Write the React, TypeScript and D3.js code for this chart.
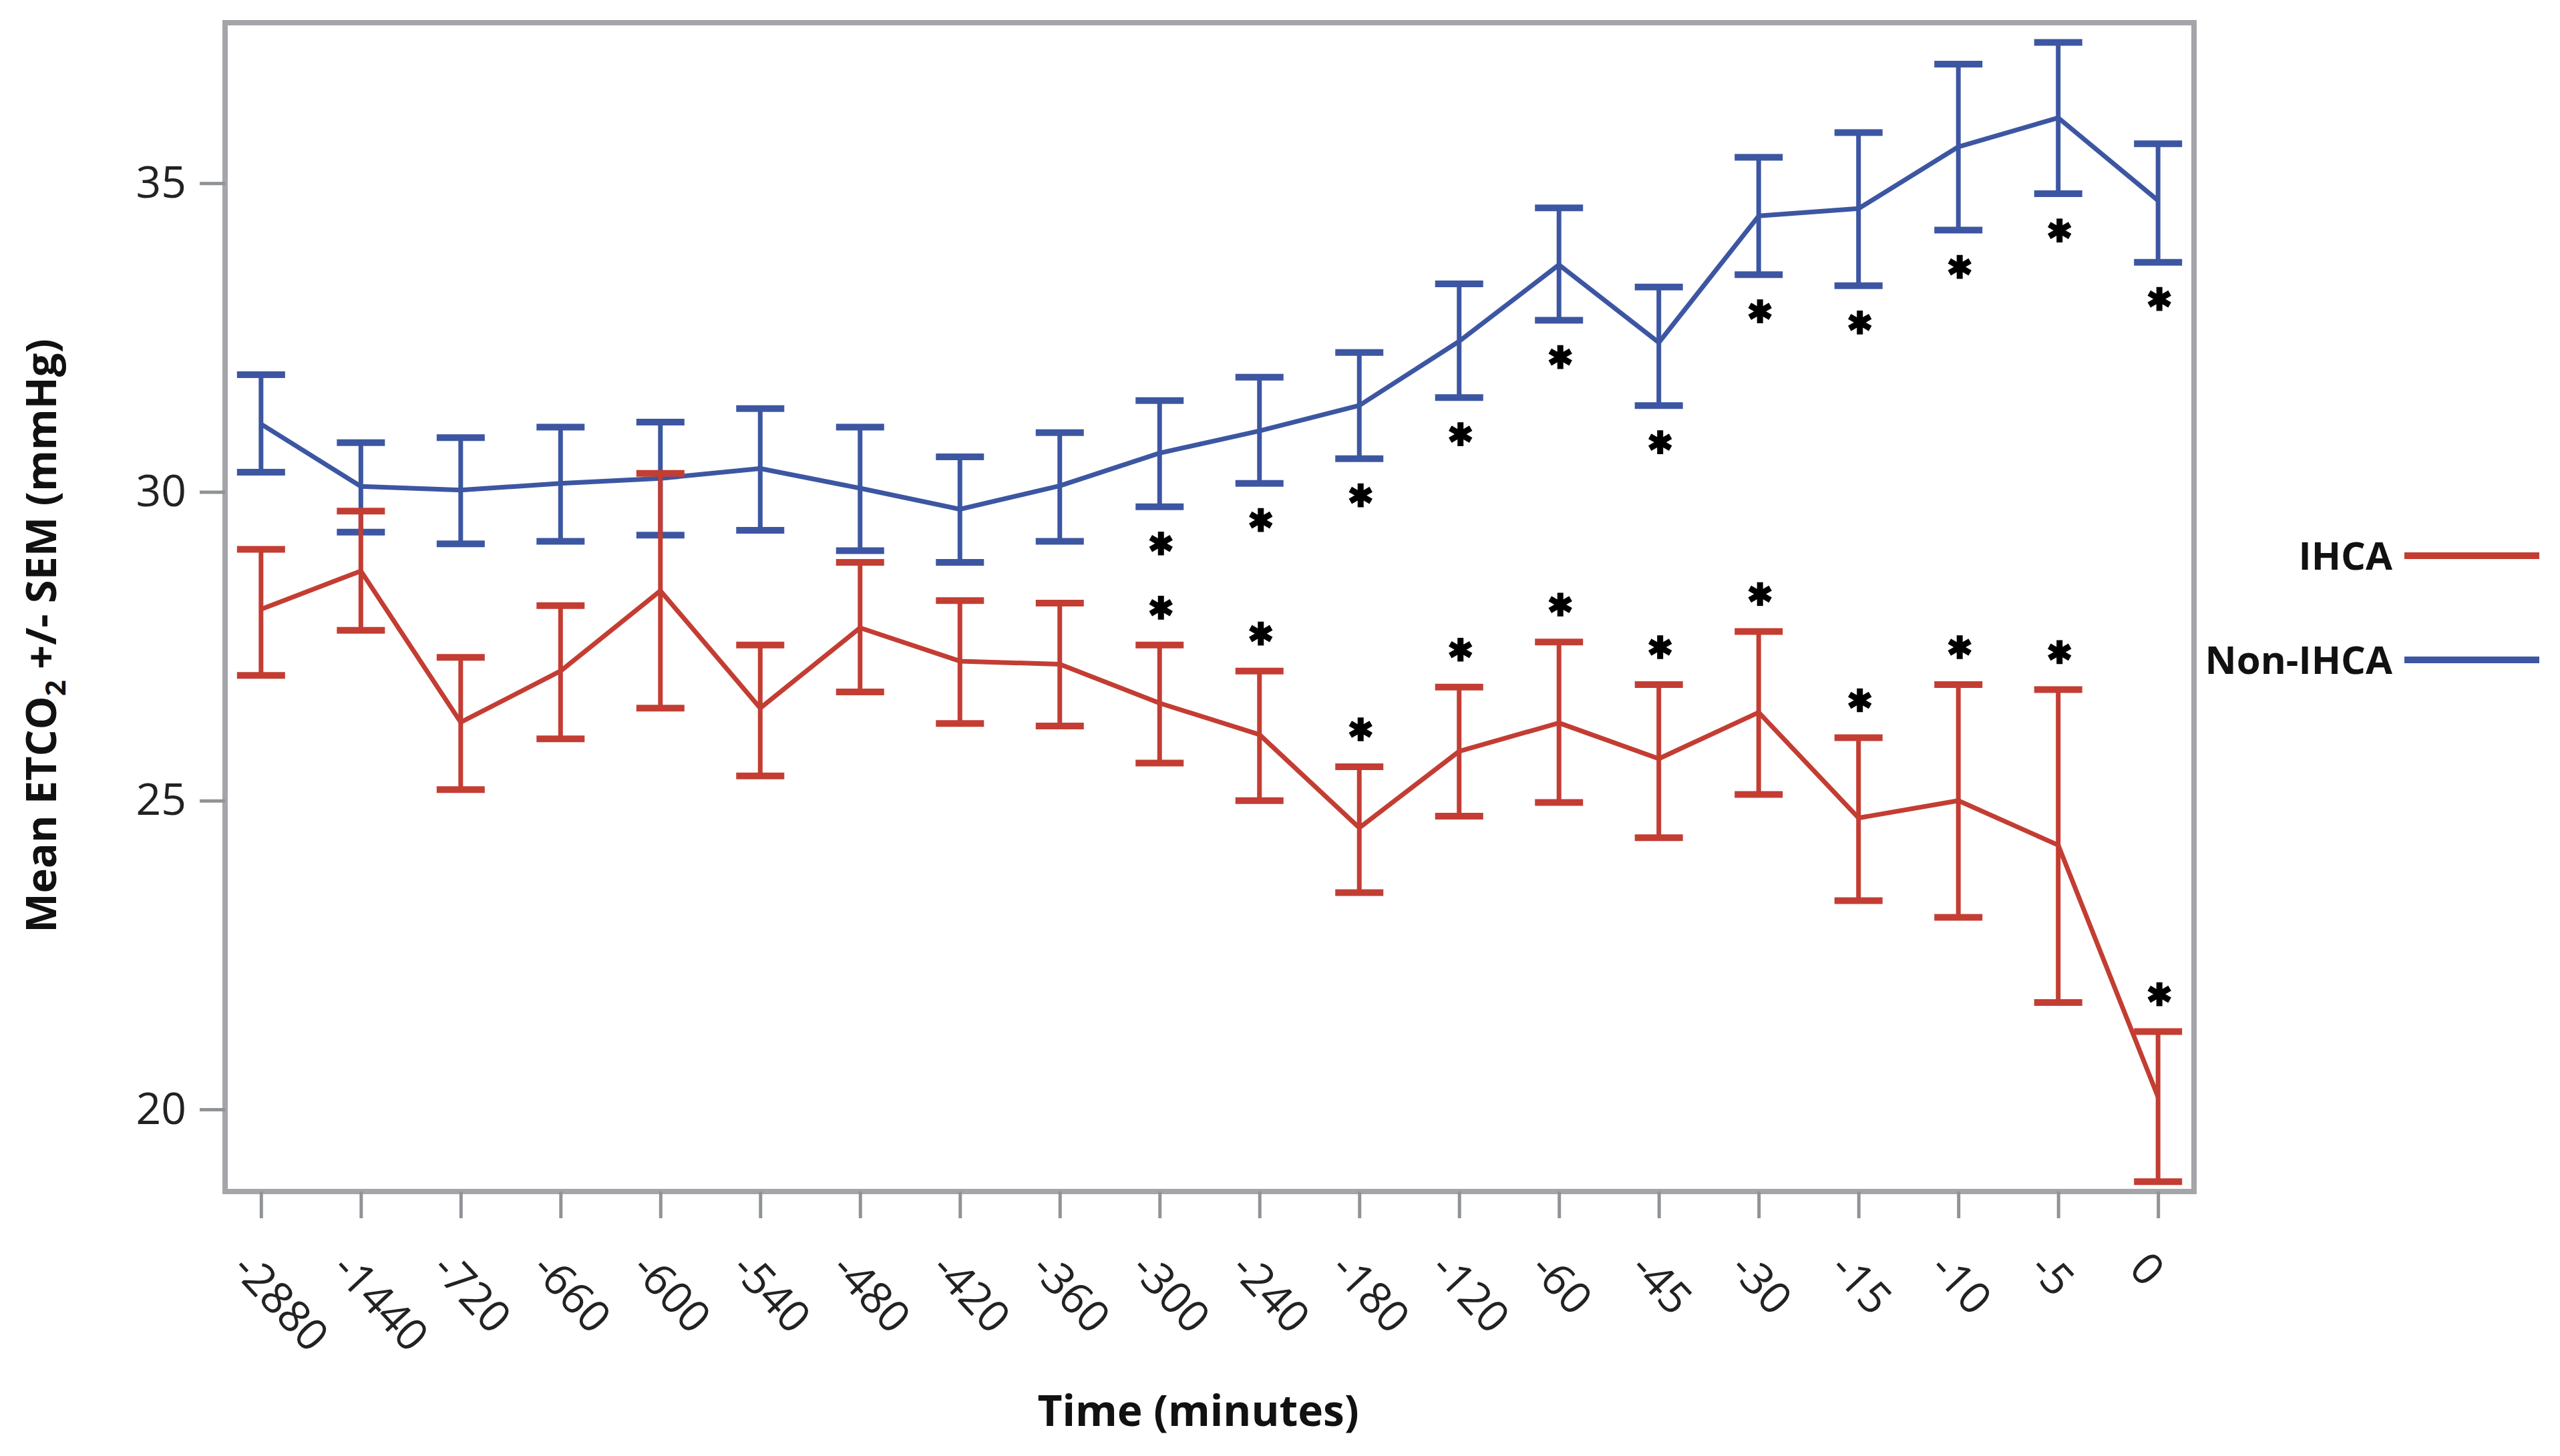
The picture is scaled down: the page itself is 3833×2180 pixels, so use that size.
import React, { useRef, useEffect } from 'react';
import * as d3 from 'd3';

// Time points (minutes before event)
const timeLabels = [
  '-2880', '-1440', '-720', '-660', '-600', '-540', '-480', '-420', '-360', '-300',
  '-240', '-180', '-120', '-60', '-45', '-30', '-15', '-10', '-5', '0',
];

// IHCA: mean and +/- SEM bounds
const ihcaMean = [28.1, 28.72, 26.27, 27.1, 28.4, 26.5, 27.8, 27.26, 27.21, 26.58,
  26.07, 24.56, 25.8, 26.26, 25.68, 26.43, 24.72, 25.0, 24.28, 20.2];
const ihcaUpper = [29.07, 29.69, 27.32, 28.16, 30.3, 27.52, 28.86, 28.24, 28.2, 27.52,
  27.1, 25.55, 26.84, 27.57, 26.88, 27.74, 26.02, 26.88, 26.8, 21.26];
const ihcaLower = [27.03, 27.76, 25.18, 26.0, 26.5, 25.4, 26.76, 26.25, 26.21, 25.61,
  25.0, 23.51, 24.75, 24.97, 24.4, 25.1, 23.38, 23.11, 21.73, 18.83];

// Non-IHCA: mean and +/- SEM bounds
const nonIhcaMean = [31.1, 30.09, 30.03, 30.14, 30.22, 30.38, 30.06, 29.72, 30.1, 30.63,
  30.99, 31.4, 32.44, 33.68, 32.42, 34.47, 34.59, 35.59, 36.06, 34.72];
const nonIhcaUpper = [31.9, 30.8, 30.88, 31.05, 31.13, 31.35, 31.05, 30.57, 30.96, 31.48,
  31.86, 32.26, 33.37, 34.6, 33.32, 35.42, 35.82, 36.93, 37.28, 35.64];
const nonIhcaLower = [30.32, 29.35, 29.16, 29.2, 29.3, 29.38, 29.05, 28.86, 29.2, 29.76,
  30.14, 30.54, 31.53, 32.78, 31.4, 33.52, 33.34, 34.24, 34.83, 33.72];

// time points marked with * (p < 0.05)
const ihcaSignificant = ['-300', '-240', '-180', '-120', '-60', '-45', '-30', '-15', '-10', '-5', '0'];
const nonIhcaSignificant = ['-300', '-240', '-180', '-120', '-60', '-45', '-30', '-15', '-10', '-5', '0'];

const yTicks = [20, 25, 30, 35];
const yDomain = [18.67, 37.6];

const series = [
  { id: 'nonihca', name: 'Non-IHCA', color: '#3c56a2', mean: nonIhcaMean, upper: nonIhcaUpper, lower: nonIhcaLower, sig: nonIhcaSignificant, starAbove: false },
  { id: 'ihca', name: 'IHCA', color: '#c33d33', mean: ihcaMean, upper: ihcaUpper, lower: ihcaLower, sig: ihcaSignificant, starAbove: true },
];
const legendOrder = ['ihca', 'nonihca'];

const W = 3833;
const H = 2180;
const FONT = '"Open Sans", sans-serif';

const App: React.FC = () => {
  const svgRef = useRef<SVGSVGElement | null>(null);

  useEffect(() => {
    if (!svgRef.current) return;
    const svg = d3.select(svgRef.current);
    svg.selectAll('*').remove();

    const frame = { left: 337, top: 34, right: 3285, bottom: 1784 };

    const x = d3.scalePoint<string>()
      .domain(timeLabels)
      .range([frame.left, frame.right])
      .padding(0.36);

    const y = d3.scaleLinear()
      .domain(yDomain)
      .range([frame.bottom, frame.top]);

    svg.append('rect').attr('width', W).attr('height', H).attr('fill', '#fff');

    // Frame
    svg.append('rect')
      .attr('x', frame.left)
      .attr('y', frame.top)
      .attr('width', frame.right - frame.left)
      .attr('height', frame.bottom - frame.top)
      .attr('fill', 'none')
      .attr('stroke', '#a3a5a8')
      .attr('stroke-width', 8);

    // Y axis
    const yAxis = svg.append('g')
      .attr('transform', `translate(${frame.left},0)`)
      .call(d3.axisLeft(y).tickValues(yTicks).tickSize(38).tickPadding(20).tickFormat(d3.format('d')));
    yAxis.select('.domain').remove();
    yAxis.selectAll('line').attr('stroke', '#909396').attr('stroke-width', 5);
    yAxis.selectAll('text')
      .attr('fill', '#222')
      .style('font-family', FONT)
      .style('font-size', '66px');

    // X axis ticks
    const xAxis = svg.append('g')
      .attr('transform', `translate(0,${frame.bottom})`)
      .call(d3.axisBottom(x).tickSize(40).tickFormat(() => ''));
    xAxis.select('.domain').remove();
    xAxis.selectAll('line').attr('stroke', '#909396').attr('stroke-width', 5);

    // Rotated x tick labels
    svg.append('g')
      .selectAll('text')
      .data(timeLabels)
      .join('text')
      .attr('transform', d => `translate(${x(d)! - 46},${frame.bottom + 118}) rotate(47)`)
      .attr('text-anchor', 'start')
      .attr('fill', '#222')
      .style('font-family', FONT)
      .style('font-size', '66px')
      .text(d => d);

    // Series: error bars, lines, asterisks
    const line = d3.line<number>()
      .x((_, i) => x(timeLabels[i])!)
      .y(d => y(d));

    const capW = 72;
    series.forEach(s => {
      const g = svg.append('g').attr('class', s.id);
      const rows = timeLabels.map((t, i) => ({ t, mean: s.mean[i], upper: s.upper[i], lower: s.lower[i] }));

      g.selectAll('.bar')
        .data(rows)
        .join('line')
        .attr('class', 'bar')
        .attr('x1', d => x(d.t)!)
        .attr('x2', d => x(d.t)!)
        .attr('y1', d => y(d.upper))
        .attr('y2', d => y(d.lower))
        .attr('stroke', s.color)
        .attr('stroke-width', 7);

      ['upper', 'lower'].forEach(k => {
        g.selectAll(`.cap-${k}`)
          .data(rows)
          .join('line')
          .attr('class', `cap-${k}`)
          .attr('x1', d => x(d.t)! - capW / 2)
          .attr('x2', d => x(d.t)! + capW / 2)
          .attr('y1', d => y((d as any)[k]))
          .attr('y2', d => y((d as any)[k]))
          .attr('stroke', s.color)
          .attr('stroke-width', 10);
      });

      g.append('path')
        .datum(s.mean)
        .attr('d', line)
        .attr('fill', 'none')
        .attr('stroke', s.color)
        .attr('stroke-width', 7)
        .attr('stroke-linejoin', 'round');

      const star = d3.symbol().type((d3 as any).symbolAsterisk ?? d3.symbolCross).size(900);
      g.selectAll('.star')
        .data(rows.filter(r => s.sig.includes(r.t)))
        .join('path')
        .attr('class', 'star')
        .attr('d', star)
        .attr('transform', d => {
          const yy = s.starAbove ? y(d.upper) - 56 : y(d.lower) + 55;
          return `translate(${x(d.t)! + 2},${yy})`;
        })
        .attr('fill', 'none')
        .attr('stroke', '#000')
        .attr('stroke-width', 9);
    });

    // Axis titles
    const yTitle = svg.append('text')
      .attr('transform', 'translate(84,952) rotate(-90)')
      .attr('text-anchor', 'middle')
      .attr('fill', '#111')
      .style('font-family', FONT)
      .style('font-size', '63px')
      .style('font-weight', 700);
    yTitle.append('tspan').text('Mean ETCO');
    yTitle.append('tspan').attr('dy', 14).style('font-size', '42px').text('2');
    yTitle.append('tspan').attr('dy', -14).text(' +/- SEM (mmHg)');

    svg.append('text')
      .attr('x', 1794)
      .attr('y', 2135)
      .attr('text-anchor', 'middle')
      .attr('fill', '#111')
      .style('font-family', FONT)
      .style('font-size', '64px')
      .style('font-weight', 700)
      .text('Time (minutes)');

    // Legend
    const legend = svg.append('g');
    const legendItem = legend.selectAll('.legend-item')
      .data(legendOrder.map(id => series.find(s => s.id === id)!))
      .join('g')
      .attr('class', 'legend-item')
      .attr('transform', (_, i) => `translate(3590,${832 + i * 156})`);

    legendItem.append('text')
      .attr('x', -8)
      .attr('dy', '0.36em')
      .attr('text-anchor', 'end')
      .attr('fill', '#111')
      .style('font-family', FONT)
      .style('font-size', '58px')
      .style('font-weight', 700)
      .text(d => d.name);

    legendItem.append('line')
      .attr('x1', 10)
      .attr('x2', 212)
      .attr('stroke', d => d.color)
      .attr('stroke-width', 10);
  }, []);

  return (
    <svg
      ref={svgRef}
      width={W}
      height={H}
      style={{ position: 'absolute', left: 0, top: 0, display: 'block' }}
    ></svg>
  );
};

export default App;
